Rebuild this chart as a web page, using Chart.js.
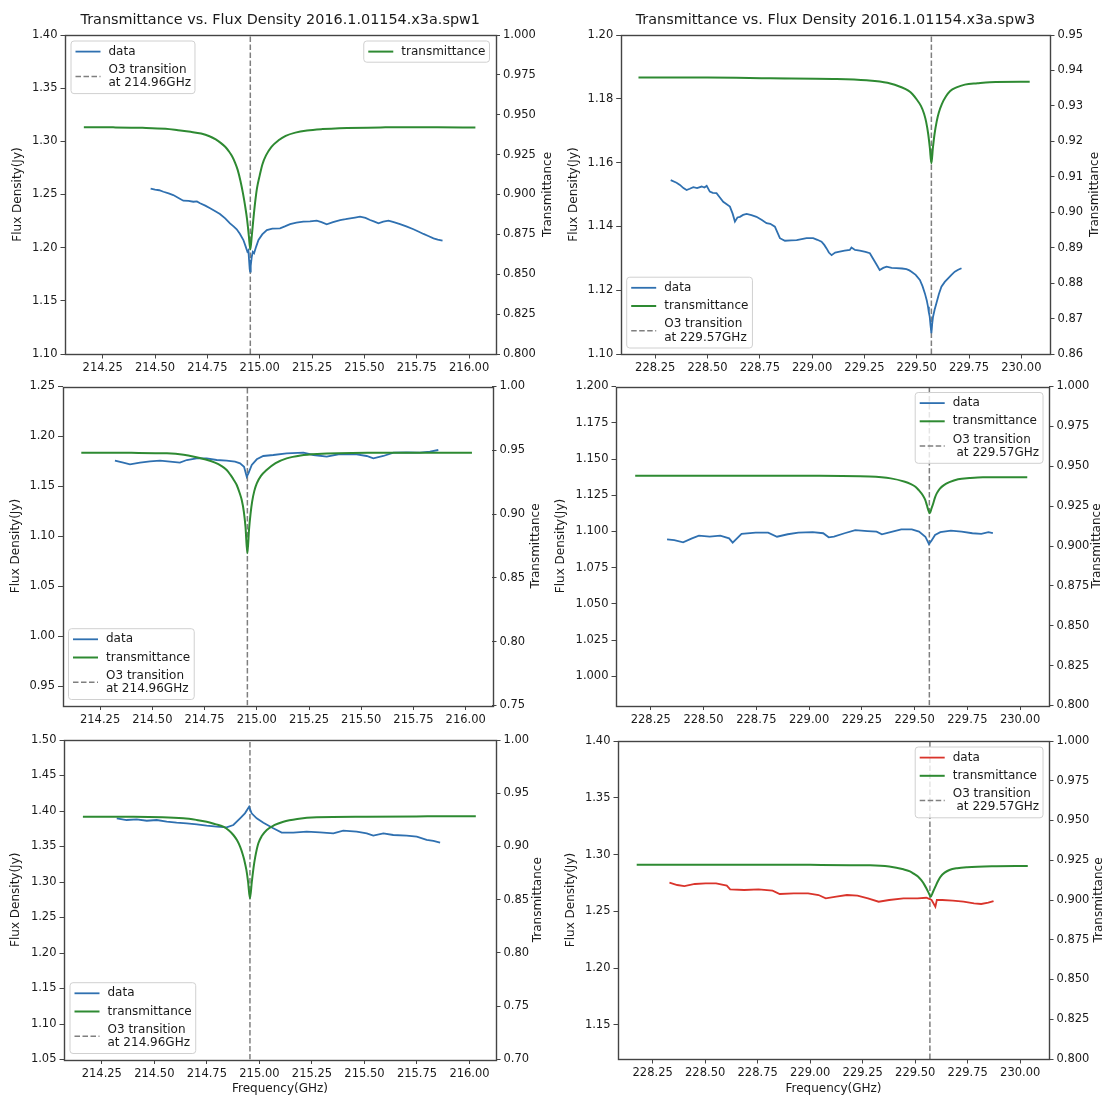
<!DOCTYPE html>
<html>
<head>
<meta charset="utf-8">
<script src="https://cdn.jsdelivr.net/npm/chart.js@4.4.1/dist/chart.umd.min.js"></script>
<style>
html, body { margin: 0; padding: 0; background: #fff; }
body { width: 1103px; height: 1096px; position: relative; overflow: hidden; }
canvas { position: absolute; }
</style>
</head>
<body>
<canvas id="p1"></canvas>
<canvas id="p2"></canvas>
<canvas id="p3"></canvas>
<canvas id="p4"></canvas>
<canvas id="p5"></canvas>
<canvas id="p6"></canvas>
<script>
// ---- tick labels ----
const ticksSpw1 = [214.25, 214.50, 214.75, 215.00, 215.25, 215.50, 215.75, 216.00];
const ticksSpw3 = [228.25, 228.50, 228.75, 229.00, 229.25, 229.50, 229.75, 230.00];

// ---- O3 lines ----
const o3Spw1 = 214.955;
const o3Spw3 = 229.570;
const o3LabelSpw1 = "O3 transition\nat 214.96GHz";
const o3LabelSpw3 = "O3 transition\nat 229.57GHz";
const o3LabelSpw3b = "O3 transition\n at 229.57GHz";

// ---- panel 1 (top left) ----
const p1Freq = [214.479, 214.500, 214.520, 214.540, 214.565, 214.587, 214.610, 214.635, 214.660, 214.683, 214.700, 214.715, 214.740, 214.763, 214.790, 214.810, 214.835, 214.858, 214.875, 214.890, 214.905, 214.922, 214.933, 214.941, 214.946, 214.949, 214.952, 214.954, 214.957, 214.962, 214.967, 214.973, 214.983, 214.994, 215.012, 215.034, 215.060, 215.097, 215.120, 215.145, 215.175, 215.208, 215.240, 215.272, 215.295, 215.320, 215.350, 215.384, 215.410, 215.432, 215.455, 215.479, 215.505, 215.527, 215.548, 215.567, 215.590, 215.615, 215.640, 215.670, 215.700, 215.734, 215.760, 215.782, 215.805, 215.830, 215.850, 215.873];
const p1Flux = [1.2555, 1.2545, 1.2540, 1.2526, 1.2510, 1.2495, 1.2470, 1.2442, 1.2440, 1.2432, 1.2435, 1.2417, 1.2395, 1.2370, 1.2340, 1.2317, 1.2275, 1.2229, 1.2200, 1.2173, 1.2130, 1.2072, 1.2010, 1.1962, 1.1975, 1.1884, 1.1800, 1.1774, 1.1830, 1.1915, 1.1960, 1.1947, 1.2010, 1.2072, 1.2125, 1.2166, 1.2180, 1.2182, 1.2200, 1.2222, 1.2235, 1.2244, 1.2248, 1.2254, 1.2240, 1.2220, 1.2240, 1.2260, 1.2268, 1.2276, 1.2283, 1.2291, 1.2280, 1.2260, 1.2245, 1.2229, 1.2245, 1.2254, 1.2240, 1.2222, 1.2200, 1.2173, 1.2150, 1.2129, 1.2110, 1.2088, 1.2075, 1.2066];
const p1TFreq = [214.16, 214.30, 214.44, 214.55, 214.61, 214.67, 214.72, 214.76, 214.79, 214.815, 214.835, 214.852, 214.868, 214.882, 214.895, 214.908, 214.92, 214.93, 214.94, 214.948, 214.955, 214.962, 214.970, 214.978, 214.987, 215.000, 215.013, 215.030, 215.056, 215.090, 215.124, 215.17, 215.226, 215.30, 215.38, 215.60, 215.85, 216.03];
const p1Trans = [0.9422, 0.9421, 0.9418, 0.9412, 0.9403, 0.9393, 0.9382, 0.9365, 0.9345, 0.9322, 0.9299, 0.9272, 0.9240, 0.9200, 0.9153, 0.9085, 0.9007, 0.8930, 0.8840, 0.8740, 0.8655, 0.8740, 0.8850, 0.8950, 0.9040, 0.9120, 0.9190, 0.9245, 0.9299, 0.9340, 0.9368, 0.9388, 0.9401, 0.9410, 0.9416, 0.9421, 0.9422, 0.9420];
const p1LeftTicks = [1.10, 1.15, 1.20, 1.25, 1.30, 1.35, 1.40];
const p1RightTicks = [0.800, 0.825, 0.850, 0.875, 0.900, 0.925, 0.950, 0.975, 1.000];

// ---- panel 2 (top right) ----
const p2Freq = [228.324, 228.352, 228.368, 228.385, 228.400, 228.415, 228.432, 228.450, 228.472, 228.485, 228.496, 228.511, 228.525, 228.543, 228.560, 228.575, 228.590, 228.607, 228.620, 228.631, 228.643, 228.655, 228.670, 228.687, 228.710, 228.734, 228.760, 228.782, 228.800, 228.822, 228.835, 228.846, 228.870, 228.900, 228.926, 228.950, 228.973, 229.005, 229.025, 229.045, 229.058, 229.069, 229.080, 229.093, 229.110, 229.132, 229.155, 229.180, 229.188, 229.205, 229.228, 229.255, 229.276, 229.290, 229.300, 229.312, 229.323, 229.340, 229.356, 229.380, 229.403, 229.430, 229.451, 229.465, 229.475, 229.495, 229.515, 229.528, 229.539, 229.548, 229.554, 229.558, 229.562, 229.566, 229.570, 229.574, 229.578, 229.586, 229.594, 229.606, 229.618, 229.634, 229.650, 229.666, 229.682, 229.698, 229.714];
const p2Flux = [1.1545, 1.1537, 1.1530, 1.1520, 1.1514, 1.1518, 1.1523, 1.1520, 1.1525, 1.1522, 1.1527, 1.1509, 1.1505, 1.1504, 1.1490, 1.1477, 1.1470, 1.1462, 1.1440, 1.1415, 1.1428, 1.1430, 1.1436, 1.1439, 1.1435, 1.1430, 1.1420, 1.1410, 1.1408, 1.1399, 1.1380, 1.1363, 1.1355, 1.1356, 1.1357, 1.1360, 1.1363, 1.1363, 1.1358, 1.1352, 1.1342, 1.1331, 1.1318, 1.1310, 1.1318, 1.1321, 1.1324, 1.1326, 1.1334, 1.1326, 1.1324, 1.1320, 1.1316, 1.1300, 1.1289, 1.1276, 1.1263, 1.1270, 1.1274, 1.1270, 1.1269, 1.1268, 1.1266, 1.1262, 1.1258, 1.1248, 1.1232, 1.1212, 1.1190, 1.1168, 1.1148, 1.1130, 1.1117, 1.1090, 1.1065, 1.1095, 1.1117, 1.1140, 1.1159, 1.1188, 1.1211, 1.1226, 1.1237, 1.1248, 1.1258, 1.1264, 1.1269];
const p2TFreq = [228.17, 228.50, 228.80, 229.10, 229.26, 229.36, 229.43, 229.46, 229.48, 229.50, 229.52, 229.535, 229.545, 229.555, 229.563, 229.570, 229.577, 229.585, 229.595, 229.605, 229.62, 229.64, 229.66, 229.69, 229.73, 229.79, 229.85, 230.04];
const p2Trans = [0.9380, 0.9380, 0.9378, 0.9376, 0.9372, 0.9365, 0.9352, 0.9343, 0.9333, 0.9318, 0.9300, 0.9278, 0.9255, 0.9220, 0.9180, 0.9138, 0.9180, 0.9220, 0.9255, 0.9280, 0.9305, 0.9327, 0.9342, 0.9352, 0.9360, 0.9364, 0.9367, 0.9368];
const p2LeftTicks = [1.10, 1.12, 1.14, 1.16, 1.18, 1.20];
const p2RightTicks = [0.86, 0.87, 0.88, 0.89, 0.90, 0.91, 0.92, 0.93, 0.94, 0.95];

// ---- panel 3 (middle left) ----
const p3Freq = [214.321, 214.361, 214.393, 214.441, 214.489, 214.537, 214.585, 214.632, 214.665, 214.712, 214.760, 214.808, 214.856, 214.896, 214.920, 214.939, 214.952, 214.960, 214.976, 215.000, 215.031, 215.079, 215.143, 215.223, 215.271, 215.335, 215.398, 215.478, 215.526, 215.558, 215.606, 215.654, 215.718, 215.781, 215.829, 215.869];
const p3Flux = [1.1758, 1.1738, 1.1722, 1.1738, 1.1752, 1.1758, 1.1748, 1.1738, 1.1765, 1.1782, 1.1782, 1.1765, 1.1758, 1.1748, 1.1732, 1.1698, 1.1598, 1.1632, 1.1715, 1.1772, 1.1805, 1.1815, 1.1832, 1.1838, 1.1815, 1.1798, 1.1825, 1.1822, 1.1805, 1.1782, 1.1805, 1.1838, 1.1842, 1.1838, 1.1848, 1.1865];
const p3TFreq = [214.16, 214.40, 214.57, 214.65, 214.70, 214.75, 214.80, 214.83, 214.856, 214.875, 214.89, 214.904, 214.918, 214.928, 214.938, 214.946, 214.955, 214.963, 214.970, 214.978, 214.988, 215.00, 215.02, 215.047, 215.09, 215.143, 215.21, 215.29, 215.53, 215.80, 216.03];
const p3Trans = [0.9481, 0.9480, 0.9476, 0.9465, 0.9450, 0.9430, 0.9403, 0.9378, 0.9346, 0.9305, 0.9268, 0.9228, 0.9165, 0.9110, 0.9020, 0.8900, 0.8693, 0.8880, 0.9000, 0.9100, 0.9180, 0.9241, 0.9300, 0.9346, 0.9400, 0.9437, 0.9460, 0.9471, 0.9480, 0.9481, 0.9481];
const p3LeftTicks = [0.95, 1.00, 1.05, 1.10, 1.15, 1.20, 1.25];
const p3RightTicks = [0.75, 0.80, 0.85, 0.90, 0.95, 1.00];

// ---- panel 4 (middle right) ----
const p4Freq = [228.327, 228.361, 228.403, 228.445, 228.478, 228.529, 228.579, 228.621, 228.638, 228.680, 228.747, 228.806, 228.848, 228.899, 228.949, 229.017, 229.067, 229.093, 229.118, 229.168, 229.219, 229.277, 229.320, 229.345, 229.395, 229.437, 229.487, 229.521, 229.551, 229.568, 229.580, 229.597, 229.622, 229.672, 229.723, 229.774, 229.816, 229.850, 229.871];
const p4Flux = [1.0946, 1.0941, 1.0925, 1.0953, 1.0971, 1.0964, 1.0971, 1.0953, 1.0923, 1.0983, 1.0992, 1.0992, 1.0964, 1.0981, 1.0992, 1.0995, 1.0988, 1.0960, 1.0964, 1.0988, 1.1010, 1.1003, 1.0999, 1.0981, 1.0999, 1.1015, 1.1015, 1.0999, 1.0964, 1.0914, 1.0937, 1.0976, 1.0995, 1.1006, 1.0999, 1.0988, 1.0983, 1.0995, 1.0988];
const p4TFreq = [228.176, 228.60, 229.00, 229.286, 229.387, 229.454, 229.48, 229.504, 229.52, 229.538, 229.55, 229.558, 229.565, 229.572, 229.58, 229.589, 229.597, 229.605, 229.62, 229.639, 229.665, 229.706, 229.76, 229.824, 230.034];
const p4Trans = [0.9441, 0.9441, 0.9440, 0.9435, 0.9424, 0.9403, 0.9390, 0.9372, 0.9350, 0.9320, 0.9290, 0.9257, 0.9225, 0.9205, 0.9235, 0.9270, 0.9305, 0.9330, 0.9360, 0.9382, 0.9400, 0.9418, 0.9426, 0.9431, 0.9431];
const p4LeftTicks = [1.000, 1.025, 1.050, 1.075, 1.100, 1.125, 1.150, 1.175, 1.200];
const p4RightTicks = [0.800, 0.825, 0.850, 0.875, 0.900, 0.925, 0.950, 0.975, 1.000];

// ---- panel 5 (bottom left) ----
const p5Freq = [214.321, 214.368, 214.416, 214.464, 214.511, 214.559, 214.606, 214.654, 214.702, 214.749, 214.797, 214.844, 214.876, 214.908, 214.931, 214.951, 214.963, 214.987, 215.019, 215.066, 215.106, 215.161, 215.225, 215.288, 215.352, 215.399, 215.463, 215.511, 215.542, 215.590, 215.637, 215.701, 215.749, 215.796, 215.828, 215.860];
const p5Flux = [1.3897, 1.3873, 1.3883, 1.3863, 1.3873, 1.3850, 1.3835, 1.3826, 1.3812, 1.3793, 1.3779, 1.3770, 1.3803, 1.3897, 1.3967, 1.4061, 1.3967, 1.3897, 1.3835, 1.3756, 1.3695, 1.3695, 1.3709, 1.3700, 1.3686, 1.3723, 1.3709, 1.3686, 1.3653, 1.3686, 1.3662, 1.3653, 1.3639, 1.3592, 1.3578, 1.3554];
const p5TFreq = [214.16, 214.40, 214.638, 214.70, 214.749, 214.79, 214.828, 214.855, 214.876, 214.893, 214.908, 214.92, 214.928, 214.938, 214.946, 214.955, 214.964, 214.972, 214.980, 214.995, 215.012, 215.035, 215.07, 215.114, 215.18, 215.273, 215.511, 215.80, 216.03];
const p5Trans = [0.9280, 0.9279, 0.9265, 0.9250, 0.9233, 0.9210, 0.9186, 0.9150, 0.9108, 0.9060, 0.8998, 0.8930, 0.8873, 0.8780, 0.8670, 0.8514, 0.8670, 0.8800, 0.8900, 0.9030, 0.9100, 0.9155, 0.9200, 0.9233, 0.9258, 0.9274, 0.9280, 0.9283, 0.9285];
const p5LeftTicks = [1.05, 1.10, 1.15, 1.20, 1.25, 1.30, 1.35, 1.40, 1.45, 1.50];
const p5RightTicks = [0.70, 0.75, 0.80, 0.85, 0.90, 0.95, 1.00];

// ---- panel 6 (bottom right) ----
const p6Freq = [228.330, 228.367, 228.401, 228.451, 228.502, 228.552, 228.603, 228.619, 228.686, 228.754, 228.821, 228.855, 228.922, 228.990, 229.040, 229.074, 229.124, 229.175, 229.225, 229.275, 229.326, 229.376, 229.444, 229.511, 229.553, 229.578, 229.596, 229.603, 229.629, 229.679, 229.730, 229.780, 229.814, 229.848, 229.873];
const p6Flux = [1.2752, 1.2732, 1.2723, 1.2741, 1.2747, 1.2747, 1.2726, 1.2694, 1.2688, 1.2694, 1.2682, 1.2653, 1.2659, 1.2659, 1.2644, 1.2615, 1.2629, 1.2644, 1.2638, 1.2615, 1.2585, 1.2600, 1.2615, 1.2615, 1.2620, 1.2600, 1.2541, 1.2600, 1.2600, 1.2594, 1.2585, 1.2571, 1.2565, 1.2576, 1.2591];
const p6TFreq = [228.174, 228.60, 229.00, 229.285, 229.376, 229.444, 229.475, 229.495, 229.513, 229.528, 229.542, 229.553, 229.564, 229.574, 229.585, 229.596, 229.608, 229.621, 229.64, 229.663, 229.70, 229.747, 229.865, 230.036];
const p6Trans = [0.9222, 0.9222, 0.9221, 0.9218, 0.9210, 0.9193, 0.9180, 0.9164, 0.9148, 0.9126, 0.9100, 0.9074, 0.9045, 0.9021, 0.9052, 0.9084, 0.9118, 0.9147, 0.9172, 0.9189, 0.9200, 0.9206, 0.9212, 0.9214];
const p6LeftTicks = [1.15, 1.20, 1.25, 1.30, 1.35, 1.40];
const p6RightTicks = [0.800, 0.825, 0.850, 0.875, 0.900, 0.925, 0.950, 0.975, 1.000];

const FONT = "'DejaVu Sans', sans-serif";
const TXT = '#1a1a1a';
const AXC = '#444';
const BLUE = '#2f70b0';
const GREEN = '#2e8a32';
const RED = '#d9342b';
const GREY = '#7f7f7f';

Chart.defaults.font.family = FONT;
Chart.defaults.color = TXT;

function pts(xs, ys) {
    return xs.map((v, i) => ({ x: v, y: ys[i] }));
}

// draws the box, the right hand axis title and the in-plot legends
const decor = {
    id: 'decor',
    afterDraw(chart) {
        const o = chart.options.plugins.decor;
        const a = chart.chartArea;
        const ctx = chart.ctx;
        ctx.save();
        ctx.strokeStyle = AXC;
        ctx.lineWidth = 1.4;
        ctx.strokeRect(Math.round(a.left) + 0.5, Math.round(a.top) + 0.5, Math.round(a.right - a.left), Math.round(a.bottom - a.top));

        ctx.fillStyle = TXT;
        ctx.font = '12px ' + FONT;
        ctx.textAlign = 'center';
        ctx.textBaseline = 'middle';
        ctx.translate(o.rightTitleX, (a.top + a.bottom) / 2);
        ctx.rotate(-Math.PI / 2);
        ctx.fillText('Transmittance', 0, 0);
        ctx.restore();

        o.legends.forEach(lg => drawLegend(chart, lg));
    }
};

function drawLegend(chart, lg) {
    const ctx = chart.ctx;
    const a = chart.chartArea;
    const LH = 13.2, PAD = 4, GAP = 5, PADX = 4.5, HAND = 25, HGAP = 8, EDGE = 6;
    ctx.save();
    ctx.font = '12px ' + FONT;
    const rows = lg.items.map(i => {
        const ds = chart.data.datasets[i];
        return { ds: ds, lines: ds.label.split('\n') };
    });
    let tw = 0;
    rows.forEach(r => r.lines.forEach(t => { tw = Math.max(tw, ctx.measureText(t).width); }));
    let h = PAD * 2 + GAP * (rows.length - 1);
    rows.forEach(r => { h += r.lines.length * LH; });
    const w = PADX + HAND + HGAP + tw + 4;
    const x = lg.pos[1] === 'l' ? a.left + EDGE : a.right - EDGE - w;
    const y = lg.pos[0] === 't' ? a.top + EDGE : a.bottom - EDGE - h;

    const r = 3;
    ctx.beginPath();
    ctx.moveTo(x + r, y);
    ctx.lineTo(x + w - r, y);
    ctx.arcTo(x + w, y, x + w, y + r, r);
    ctx.lineTo(x + w, y + h - r);
    ctx.arcTo(x + w, y + h, x + w - r, y + h, r);
    ctx.lineTo(x + r, y + h);
    ctx.arcTo(x, y + h, x, y + h - r, r);
    ctx.lineTo(x, y + r);
    ctx.arcTo(x, y, x + r, y, r);
    ctx.closePath();
    ctx.fillStyle = 'rgba(255,255,255,0.8)';
    ctx.fill();
    ctx.strokeStyle = '#d0d0d0';
    ctx.lineWidth = 1;
    ctx.stroke();

    let cy = y + PAD;
    rows.forEach(rw => {
        const rh = rw.lines.length * LH;
        const mid = cy + rh / 2;
        ctx.strokeStyle = rw.ds.borderColor;
        ctx.lineWidth = rw.ds.borderWidth;
        ctx.setLineDash(rw.ds.borderDash || []);
        ctx.beginPath();
        ctx.moveTo(x + PADX, mid);
        ctx.lineTo(x + PADX + HAND, mid);
        ctx.stroke();
        ctx.setLineDash([]);
        ctx.fillStyle = TXT;
        ctx.textAlign = 'left';
        ctx.textBaseline = 'middle';
        rw.lines.forEach((t, k) => ctx.fillText(t, x + PADX + HAND + HGAP, cy + LH * (k + 0.5)));
        cy += rh + GAP;
    });
    ctx.restore();
}

function tickOpts(dec, size) {
    return {
        font: { size: size },
        color: TXT,
        padding: 3,
        autoSkip: false,
        maxRotation: 0,
        minRotation: 0,
        callback: v => Number(v).toFixed(dec)
    };
}

const gridOpts = { drawOnChartArea: false, tickLength: 4.5, color: AXC, lineWidth: 1 };

function makePanel(id, p) {
    const cv = document.getElementById(id);
    cv.width = p.cw;
    cv.height = p.ch;
    cv.style.left = p.cx + 'px';
    cv.style.top = p.cy + 'px';

    const titleH = p.title ? 14.4 * 1.2 + 7 + 6 : 0;
    const padTop = p.plot.t - p.cy - titleH;
    const xH = p.cy + p.ch - p.plot.b;
    const yLW = p.plot.l - p.cx;
    const yRW = p.cx + p.cw - p.plot.r;

    const datasets = [
        { label: 'data', data: pts(p.freq, p.flux), yAxisID: 'y', borderColor: p.dataColor, borderWidth: 1.8, pointRadius: 0, order: 1 },
        { label: 'transmittance', data: pts(p.tfreq, p.trans), yAxisID: 'y1', borderColor: GREEN, borderWidth: 2, pointRadius: 0, cubicInterpolationMode: 'monotone', order: 0 },
        { label: p.o3Label, data: [{ x: p.o3, y: p.yMin }, { x: p.o3, y: p.yMax }], yAxisID: 'y', borderColor: GREY, borderWidth: 1.5, borderDash: [5.5, 2.5], pointRadius: 0, order: 2 }
    ];

    return new Chart(cv, {
        type: 'line',
        data: { datasets: datasets },
        plugins: [decor],
        options: {
            responsive: false,
            animation: false,
            layout: { padding: { left: 0, right: 0, top: padTop, bottom: 0 } },
            plugins: {
                legend: { display: false },
                tooltip: { enabled: false },
                title: {
                    display: !!p.title,
                    text: p.title,
                    fullSize: false,
                    color: TXT,
                    font: { size: 14.4, weight: 'normal', lineHeight: 1.2 },
                    padding: { top: 7, bottom: 6 }
                },
                decor: { rightTitleX: p.rightTitleX - p.cx, legends: p.legends }
            },
            scales: {
                x: {
                    type: 'linear',
                    min: p.xMin,
                    max: p.xMax,
                    afterBuildTicks: ax => { ax.ticks = p.xTicks.map(v => ({ value: v })); },
                    afterFit: s => { s.height = xH; },
                    ticks: tickOpts(2, 11.5),
                    grid: gridOpts,
                    border: { display: false },
                    title: {
                        display: !!p.xTitle,
                        text: p.xTitle,
                        color: TXT,
                        font: { size: 12 },
                        padding: { top: 0, bottom: 0 }
                    }
                },
                y: {
                    position: 'left',
                    min: p.yMin,
                    max: p.yMax,
                    afterBuildTicks: ax => { ax.ticks = p.yTicks.map(v => ({ value: v })); },
                    afterFit: s => { s.width = yLW; },
                    ticks: tickOpts(p.yDec, 11.5),
                    grid: gridOpts,
                    border: { display: false },
                    title: {
                        display: true,
                        text: 'Flux Density(Jy)',
                        color: TXT,
                        font: { size: 12 },
                        padding: { top: p.leftTitleX - p.cx - 7.2, bottom: 0 }
                    }
                },
                y1: {
                    position: 'right',
                    min: p.y1Min,
                    max: p.y1Max,
                    afterBuildTicks: ax => { ax.ticks = p.y1Ticks.map(v => ({ value: v })); },
                    afterFit: s => { s.width = yRW; },
                    ticks: tickOpts(p.y1Dec, 11.5),
                    grid: gridOpts,
                    border: { display: false }
                }
            }
        }
    });
}

const spw1Range = [214.07, 216.126];
const spw3Range = [228.085, 230.137];

makePanel('p1', {
    cx: 0, cy: 0, cw: 556, ch: 378,
    plot: { l: 65, r: 495.5, t: 35, b: 354 },
    title: 'Transmittance vs. Flux Density 2016.1.01154.x3a.spw1',
    leftTitleX: 18, rightTitleX: 548,
    xMin: spw1Range[0], xMax: spw1Range[1], xTicks: ticksSpw1,
    yMin: 1.10, yMax: 1.40, yTicks: p1LeftTicks, yDec: 2,
    y1Min: 0.80, y1Max: 1.00, y1Ticks: p1RightTicks, y1Dec: 3,
    freq: p1Freq, flux: p1Flux, tfreq: p1TFreq, trans: p1Trans, dataColor: BLUE,
    o3: o3Spw1, o3Label: o3LabelSpw1,
    legends: [{ pos: 'tl', items: [0, 2] }, { pos: 'tr', items: [1] }]
});

makePanel('p2', {
    cx: 551, cy: 0, cw: 552, ch: 378,
    plot: { l: 620.7, r: 1050, t: 35, b: 354 },
    title: 'Transmittance vs. Flux Density 2016.1.01154.x3a.spw3',
    leftTitleX: 574, rightTitleX: 1095,
    xMin: spw3Range[0], xMax: spw3Range[1], xTicks: ticksSpw3,
    yMin: 1.10, yMax: 1.20, yTicks: p2LeftTicks, yDec: 2,
    y1Min: 0.86, y1Max: 0.95, y1Ticks: p2RightTicks, y1Dec: 2,
    freq: p2Freq, flux: p2Flux, tfreq: p2TFreq, trans: p2Trans, dataColor: BLUE,
    o3: o3Spw3, o3Label: o3LabelSpw3,
    legends: [{ pos: 'bl', items: [0, 1, 2] }]
});

makePanel('p3', {
    cx: 0, cy: 376, cw: 556, ch: 354,
    plot: { l: 62.5, r: 492, t: 386.5, b: 705.5 },
    leftTitleX: 15.5, rightTitleX: 536,
    xMin: spw1Range[0], xMax: spw1Range[1], xTicks: ticksSpw1,
    yMin: 0.931, yMax: 1.25, yTicks: p3LeftTicks, yDec: 2,
    y1Min: 0.75, y1Max: 1.00, y1Ticks: p3RightTicks, y1Dec: 2,
    freq: p3Freq, flux: p3Flux, tfreq: p3TFreq, trans: p3Trans, dataColor: BLUE,
    o3: o3Spw1, o3Label: o3LabelSpw1,
    legends: [{ pos: 'bl', items: [0, 1, 2] }]
});

makePanel('p4', {
    cx: 551, cy: 376, cw: 552, ch: 354,
    plot: { l: 616, r: 1049, t: 386.5, b: 705.5 },
    leftTitleX: 561, rightTitleX: 1096.5,
    xMin: spw3Range[0], xMax: spw3Range[1], xTicks: ticksSpw3,
    yMin: 0.98, yMax: 1.20, yTicks: p4LeftTicks, yDec: 3,
    y1Min: 0.80, y1Max: 1.00, y1Ticks: p4RightTicks, y1Dec: 3,
    freq: p4Freq, flux: p4Flux, tfreq: p4TFreq, trans: p4Trans, dataColor: BLUE,
    o3: o3Spw3, o3Label: o3LabelSpw3b,
    legends: [{ pos: 'tr', items: [0, 1, 2] }]
});

makePanel('p5', {
    cx: 0, cy: 730, cw: 556, ch: 366,
    plot: { l: 64, r: 496, t: 740, b: 1059.5 },
    xTitle: 'Frequency(GHz)',
    leftTitleX: 16, rightTitleX: 537.5,
    xMin: spw1Range[0], xMax: spw1Range[1], xTicks: ticksSpw1,
    yMin: 1.05, yMax: 1.50, yTicks: p5LeftTicks, yDec: 2,
    y1Min: 0.70, y1Max: 1.00, y1Ticks: p5RightTicks, y1Dec: 2,
    freq: p5Freq, flux: p5Flux, tfreq: p5TFreq, trans: p5Trans, dataColor: BLUE,
    o3: o3Spw1, o3Label: o3LabelSpw1,
    legends: [{ pos: 'bl', items: [0, 1, 2] }]
});

makePanel('p6', {
    cx: 551, cy: 730, cw: 552, ch: 366,
    plot: { l: 618, r: 1049, t: 741, b: 1059 },
    xTitle: 'Frequency(GHz)',
    leftTitleX: 571, rightTitleX: 1099,
    xMin: spw3Range[0], xMax: spw3Range[1], xTicks: ticksSpw3,
    yMin: 1.12, yMax: 1.40, yTicks: p6LeftTicks, yDec: 2,
    y1Min: 0.80, y1Max: 1.00, y1Ticks: p6RightTicks, y1Dec: 3,
    freq: p6Freq, flux: p6Flux, tfreq: p6TFreq, trans: p6Trans, dataColor: RED,
    o3: o3Spw3, o3Label: o3LabelSpw3b,
    legends: [{ pos: 'tr', items: [0, 1, 2] }]
});
</script>
</body>
</html>
